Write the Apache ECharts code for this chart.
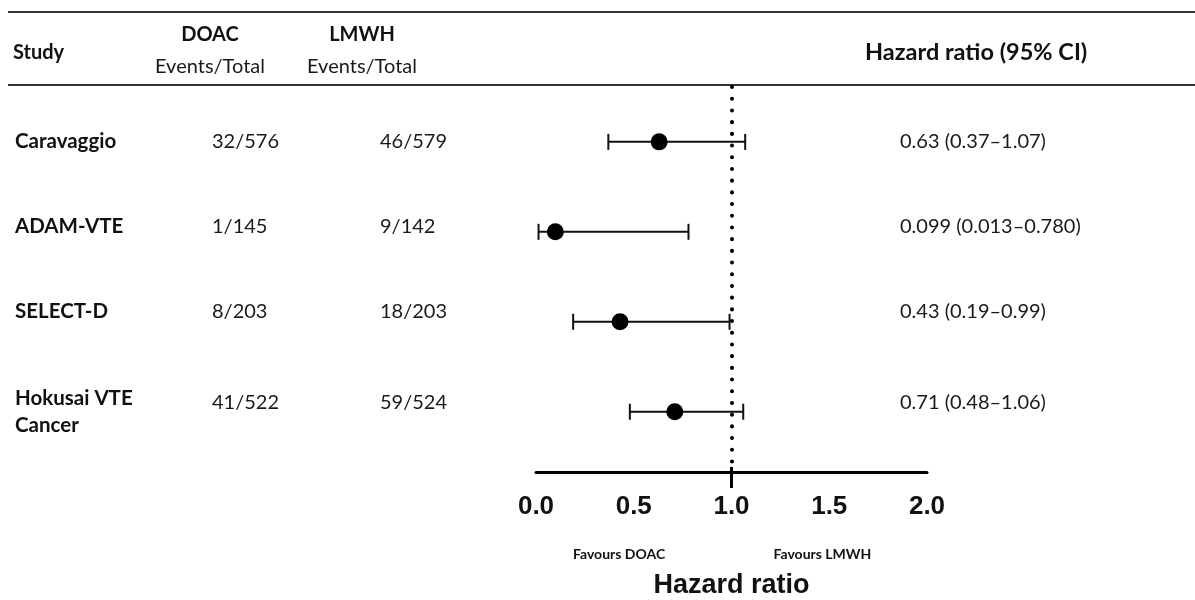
<!DOCTYPE html>
<html><head><meta charset="utf-8">
<script src="https://cdn.jsdelivr.net/npm/echarts@6/dist/echarts.min.js"></script>
<style>html,body{margin:0;padding:0;background:#fff}#c{width:1195px;height:600px}</style>
</head><body><div id="c"></div>
<script>
const studies = ['Caravaggio', 'ADAM-VTE', 'SELECT-D', 'Hokusai VTE\nCancer'];
const doacEvents = ['32/576', '1/145', '8/203', '41/522'];
const lmwhEvents = ['46/579', '9/142', '18/203', '59/524'];
const hrValues = [0.63, 0.099, 0.43, 0.71];
const ciLow = [0.37, 0.013, 0.19, 0.48];
const ciHigh = [1.07, 0.78, 0.99, 1.06];
const hrLabels = ['0.63 (0.37\u20131.07)', '0.099 (0.013\u20130.780)', '0.43 (0.19\u20130.99)', '0.71 (0.48\u20131.06)'];
const xTickValues = [0, 0.5, 1, 1.5, 2];
const rows = [1, 2, 3, 4];
const nullValue = 1;

const TXT = 'Lato, "Open Sans", sans-serif';
const chart = echarts.init(document.getElementById('c'), null, {renderer: 'canvas'});

chart.setOption({
  animation: false,
  backgroundColor: '#fff',
  grid: {left: 536, right: 268, top: 87, bottom: 128, containLabel: false, outerBoundsMode: 'none'},
  xAxis: {
    type: 'value', min: xTickValues[0], max: xTickValues[xTickValues.length - 1], interval: 0.5,
    position: 'bottom',
    axisLine: {show: true, lineStyle: {color: '#000', width: 3}},
    axisTick: {show: false},
    splitLine: {show: false},
    axisLabel: {
      fontFamily: '"Liberation Sans", Arial, sans-serif', fontWeight: 'bold', fontSize: 26,
      color: '#111', margin: 22, formatter: v => v.toFixed(1)
    },
    name: 'Hazard ratio', nameLocation: 'middle', nameGap: 100,
    nameTextStyle: {fontFamily: '"Liberation Sans", Arial, sans-serif', fontWeight: 'bold', fontSize: 27, color: '#111'}
  },
  yAxis: {type: 'value', min: 0.39, max: 4.67, inverse: true, show: false},
  series: [
    {
      type: 'custom',
      data: rows.map((r, i) => [ciLow[i], ciHigh[i], r]),
      renderItem: function (params, api) {
        const a = api.coord([api.value(0), api.value(2)]);
        const b = api.coord([api.value(1), api.value(2)]);
        const st = {stroke: '#111', lineWidth: 2};
        return {type: 'group', children: [
          {type: 'line', shape: {x1: a[0], y1: a[1], x2: b[0], y2: b[1]}, style: st},
          {type: 'line', shape: {x1: a[0], y1: a[1] - 8, x2: a[0], y2: a[1] + 8}, style: st},
          {type: 'line', shape: {x1: b[0], y1: b[1] - 8, x2: b[0], y2: b[1] + 8}, style: st}
        ]};
      },
      z: 2
    },
    {
      type: 'scatter',
      data: rows.map((r, i) => [hrValues[i], r]),
      symbol: 'circle', symbolSize: 17,
      itemStyle: {color: '#000', opacity: 1},
      z: 3,
      markLine: {
        silent: true, symbol: 'none', label: {show: false},
        lineStyle: {color: '#000', width: 4, type: [0.1, 11.6], cap: 'round', opacity: 1},
        data: [{xAxis: nullValue}]
      }
    }
  ]
});

const textOffset = [0, -5, -10, -9];
const g = [];
g.push({type: 'line', shape: {x1: 8, y1: 12, x2: 1195, y2: 12}, style: {stroke: '#333', lineWidth: 2}});
g.push({type: 'line', shape: {x1: 8, y1: 85, x2: 1195, y2: 85}, style: {stroke: '#333', lineWidth: 2}});
const axisY = chart.convertToPixel({yAxisIndex: 0}, 4.67);
const oneX = chart.convertToPixel({xAxisIndex: 0}, nullValue);
g.push({type: 'line', shape: {x1: oneX, y1: axisY - 5, x2: oneX, y2: axisY + 16}, style: {stroke: '#000', lineWidth: 3}});
function txt(t, x, y, opt) {
  g.push({type: 'text', x: x, y: y, style: Object.assign({
    text: t, fill: '#1a1a1a', font: '20px ' + TXT, textAlign: 'left', textVerticalAlign: 'middle'
  }, opt || {})});
}
txt('Study', 13, 53, {font: 'bold 20px ' + TXT, fill: '#111'});
txt('DOAC', 210, 35, {font: 'bold 20px ' + TXT, textAlign: 'center', fill: '#111'});
txt('Events/Total', 210, 67, {textAlign: 'center'});
txt('LMWH', 362, 35, {font: 'bold 20px ' + TXT, textAlign: 'center', fill: '#111'});
txt('Events/Total', 362, 67, {textAlign: 'center'});
txt('Hazard ratio (95% CI)', 865, 52, {font: 'bold 23.5px ' + TXT, fill: '#111'});

rows.forEach((r, i) => {
  const y = chart.convertToPixel({yAxisIndex: 0}, r) + textOffset[i];
  txt(studies[i], 15, i === 3 ? y + 9 : y, {font: 'bold 20.5px ' + TXT, fill: '#111', lineHeight: 27});
  txt(doacEvents[i], 212, y);
  txt(lmwhEvents[i], 380, y);
  txt(hrLabels[i], 900, y);
});
const fy = 554;
txt('Favours DOAC', chart.convertToPixel({xAxisIndex: 0}, 0.425), fy, {font: 'bold 14px ' + TXT, textAlign: 'center', fill: '#111'});
txt('Favours LMWH', chart.convertToPixel({xAxisIndex: 0}, 1.465), fy, {font: 'bold 14px ' + TXT, textAlign: 'center', fill: '#111'});
chart.setOption({graphic: {elements: g}});
</script></body></html>
